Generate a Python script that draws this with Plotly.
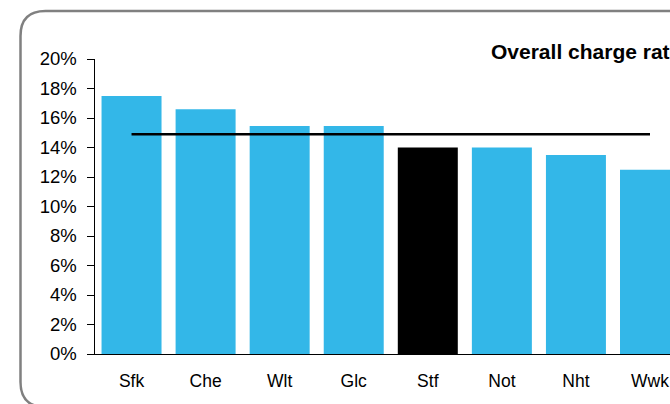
import plotly.graph_objects as go

categories = ["Sfk", "Che", "Wlt", "Glc", "Stf", "Not", "Nht", "Wwk"]
rates = [0.175, 0.166, 0.1545, 0.1545, 0.140, 0.140, 0.135, 0.125]
overall = [0.149, 0.149, 0.149, 0.149, 0.149, 0.149, 0.149, 0.149]
highlight = "Stf"
title_text = "Overall charge rate"

W, H = 670, 404
BLUE = "#33B7E8"
FONT = "Arial, Liberation Sans, sans-serif"

bar_colors = ["#000000" if c == highlight else BLUE for c in categories]

fig = go.Figure()
fig.add_trace(go.Bar(x=categories, y=rates, marker=dict(color=bar_colors, line=dict(width=0)),
                     showlegend=False, hoverinfo="skip"))
fig.add_trace(go.Scatter(x=categories, y=overall, mode="lines",
                         line=dict(color="#000000", width=2.5), showlegend=False, hoverinfo="skip"))

def px(x):
    return x / W

def py(y):
    return 1 - y / H

# rounded border (clipped at right/bottom like the reference)
r = 25
x0, y0 = 20.5, 11
yb = 407
path = (f"M {px(W + 40)} {py(yb)} L {px(x0 + r)} {py(yb)} "
        f"Q {px(x0)} {py(yb)} {px(x0)} {py(yb - r)} "
        f"L {px(x0)} {py(y0 + r)} "
        f"Q {px(x0)} {py(y0)} {px(x0 + r)} {py(y0)} L {px(W + 40)} {py(y0)}")

fig.update_layout(
    width=W, height=H,
    margin=dict(l=0, r=0, t=0, b=0, autoexpand=False),
    paper_bgcolor="white", plot_bgcolor="white",
    bargap=0.19,
    font=dict(family=FONT, color="#000000"),
    xaxis=dict(domain=[px(94.5), 1], range=[-0.5, 7.27], showline=True, linecolor="#000000",
               linewidth=1, ticks="", showgrid=False, zeroline=False,
               tickfont=dict(size=17.5, family=FONT, color="#000000"), ticklabelstandoff=11),
    yaxis=dict(domain=[py(354), py(59)], range=[0, 0.2], dtick=0.02, tickformat=".0%",
               showline=True, linecolor="#000000", linewidth=1, ticks="outside", ticklen=7,
               tickcolor="#000000", showgrid=False, zeroline=False,
               tickfont=dict(size=18.5, family=FONT, color="#000000"), ticklabelstandoff=6),
    shapes=[
        dict(type="path", xref="paper", yref="paper", path=path,
             line=dict(color="#808080", width=2.5)),
    ],
    annotations=[
        dict(text=f"<b>{title_text}</b>", xref="paper", yref="paper", x=px(488.5), y=py(51),
             xanchor="left", yanchor="middle", showarrow=False,
             font=dict(size=21, family=FONT, color="#000000")),
    ],
)

fig.write_html("out.html", config={"displayModeBar": False},
               post_script="document.body.style.margin='0';document.body.style.overflow='hidden';")
